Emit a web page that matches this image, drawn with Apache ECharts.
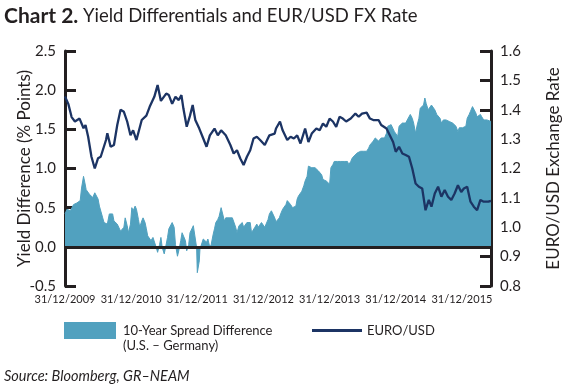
<!DOCTYPE html>
<html>
<head>
<meta charset="utf-8">
<script src="https://cdn.jsdelivr.net/npm/echarts@6/dist/echarts.min.js"></script>
<style>html,body{margin:0;padding:0;background:#fff}#c{width:570px;height:392px}</style>
</head>
<body>
<div id="c"></div>
<script>
// x values: years elapsed since 31/12/2009
const xTickLabels = ['31/12/2009','31/12/2010','31/12/2011','31/12/2012','31/12/2013','31/12/2014','31/12/2015'];
const leftTicks = [-0.5, 0.0, 0.5, 1.0, 1.5, 2.0, 2.5];
const rightTicks = [0.8, 0.9, 1.0, 1.1, 1.2, 1.3, 1.4, 1.5, 1.6];

// 10-Year Spread Difference (U.S. - Germany), % points
const spreadT = [0.00,0.03,0.08,0.13,0.18,0.23,0.25,0.28,0.30,0.32,0.35,0.37,0.42,0.45,0.47,0.50,0.52,0.54,0.57,0.59,0.62,0.64,0.67,0.69,0.72,0.74,0.79,0.84,0.86,0.89,0.91,0.94,0.96,0.99,1.01,1.03,1.06,1.08,1.11,1.13,1.16,1.18,1.21,1.23,1.25,1.28,1.30,1.33,1.35,1.38,1.40,1.43,1.45,1.47,1.50,1.52,1.55,1.57,1.62,1.65,1.67,1.70,1.72,1.75,1.77,1.79,1.82,1.84,1.87,1.89,1.92,1.94,1.97,1.99,2.00,2.03,2.04,2.06,2.09,2.11,2.14,2.16,2.19,2.21,2.24,2.26,2.28,2.31,2.33,2.36,2.38,2.41,2.43,2.46,2.48,2.50,2.53,2.55,2.58,2.60,2.63,2.65,2.68,2.70,2.73,2.75,2.77,2.80,2.82,2.85,2.87,2.90,2.92,2.95,2.97,3.00,3.02,3.04,3.07,3.09,3.12,3.14,3.17,3.19,3.22,3.24,3.26,3.29,3.31,3.34,3.36,3.39,3.41,3.44,3.46,3.49,3.51,3.53,3.56,3.58,3.61,3.63,3.66,3.68,3.71,3.73,3.75,3.78,3.80,3.83,3.85,3.88,3.90,3.93,3.95,3.98,4.00,4.02,4.05,4.07,4.10,4.12,4.15,4.17,4.20,4.22,4.25,4.27,4.29,4.32,4.34,4.37,4.39,4.42,4.44,4.47,4.49,4.51,4.54,4.56,4.59,4.61,4.64,4.66,4.69,4.71,4.74,4.76,4.78,4.81,4.83,4.86,4.88,4.91,4.93,4.96,4.98,5.00,5.03,5.05,5.08,5.10,5.13,5.15,5.18,5.20,5.22,5.25,5.27,5.30,5.32,5.35,5.37,5.40,5.42,5.44,5.46,5.49,5.51,5.54,5.57,5.59,5.62,5.64,5.67,5.69,5.72,5.74,5.76,5.79,5.81,5.84,5.86,5.89,5.91,5.94,5.96,5.99,6.01,6.03,6.06,6.08,6.11,6.13,6.16,6.18,6.21,6.23,6.25,6.28,6.30,6.33,6.35,6.38,6.40,6.44];
const spreadV = [0.42,0.48,0.46,0.54,0.56,0.59,0.75,0.90,0.82,0.73,0.75,0.67,0.63,0.69,0.71,0.61,0.52,0.50,0.37,0.31,0.33,0.29,0.42,0.44,0.42,0.33,0.29,0.20,0.18,0.25,0.37,0.27,0.18,0.29,0.50,0.46,0.52,0.48,0.35,0.25,0.33,0.37,0.31,0.23,0.14,0.12,0.08,0.12,0.10,-0.01,-0.07,0.03,0.12,-0.01,-0.09,-0.01,0.12,0.23,0.31,0.25,0.03,-0.12,-0.05,0.08,0.18,0.20,0.08,-0.05,0.03,0.18,0.20,0.27,0.29,-0.01,-0.33,-0.18,-0.03,-0.01,0.10,0.12,0.06,0.10,-0.01,0.03,0.16,0.23,0.31,0.35,0.39,0.50,0.48,0.33,0.37,0.35,0.37,0.39,0.37,0.35,0.25,0.18,0.27,0.29,0.31,0.25,0.27,0.31,0.29,0.31,0.18,0.20,0.25,0.29,0.25,0.27,0.31,0.29,0.25,0.27,0.35,0.42,0.46,0.44,0.37,0.32,0.33,0.37,0.42,0.48,0.50,0.54,0.59,0.59,0.54,0.50,0.48,0.52,0.61,0.65,0.67,0.71,0.78,0.84,0.90,1.03,1.03,1.01,1.03,1.01,1.03,0.97,0.97,0.92,0.86,0.86,0.84,0.82,0.80,1.01,1.05,1.09,1.07,1.09,1.11,1.09,1.11,1.09,1.11,1.09,1.05,1.09,1.13,1.16,1.18,1.20,1.20,1.22,1.20,1.22,1.24,1.22,1.26,1.30,1.28,1.35,1.39,1.37,1.35,1.37,1.39,1.41,1.39,1.45,1.54,1.52,1.56,1.54,1.47,1.45,1.41,1.54,1.56,1.58,1.56,1.58,1.56,1.66,1.69,1.64,1.58,1.45,1.54,1.64,1.77,1.79,1.81,1.90,1.83,1.75,1.77,1.81,1.83,1.75,1.69,1.71,1.64,1.58,1.62,1.60,1.62,1.62,1.60,1.60,1.58,1.58,1.54,1.47,1.52,1.54,1.52,1.54,1.54,1.64,1.69,1.73,1.79,1.77,1.71,1.66,1.64,1.69,1.66,1.62,1.60,1.62,1.60,1.60];

// EURO/USD exchange rate
const fxT = [0.00,0.02,0.05,0.10,0.15,0.22,0.28,0.31,0.35,0.40,0.45,0.50,0.54,0.62,0.64,0.69,0.74,0.79,0.84,0.89,0.94,0.99,1.03,1.08,1.16,1.23,1.28,1.35,1.40,1.45,1.53,1.57,1.62,1.67,1.72,1.76,1.79,1.84,1.89,1.93,1.97,2.03,2.09,2.14,2.19,2.26,2.31,2.36,2.43,2.50,2.55,2.60,2.65,2.70,2.75,2.80,2.85,2.90,2.95,3.02,3.09,3.17,3.19,3.25,3.29,3.36,3.41,3.46,3.51,3.56,3.63,3.68,3.73,3.80,3.85,3.90,3.95,4.00,4.05,4.10,4.15,4.20,4.25,4.32,4.39,4.44,4.49,4.56,4.61,4.66,4.74,4.78,4.81,4.86,4.91,4.96,5.00,5.05,5.10,5.15,5.20,5.25,5.30,5.35,5.40,5.45,5.50,5.54,5.59,5.64,5.69,5.74,5.79,5.84,5.89,5.94,5.99,6.03,6.08,6.13,6.18,6.23,6.28,6.33,6.40,6.44];
const fxV = [1.445,1.444,1.42,1.375,1.36,1.37,1.337,1.348,1.308,1.24,1.20,1.235,1.24,1.297,1.32,1.274,1.28,1.348,1.40,1.393,1.36,1.313,1.33,1.297,1.365,1.38,1.41,1.444,1.484,1.43,1.455,1.45,1.42,1.444,1.433,1.45,1.404,1.342,1.38,1.416,1.365,1.336,1.302,1.274,1.313,1.336,1.313,1.33,1.313,1.28,1.251,1.262,1.234,1.212,1.24,1.262,1.302,1.308,1.297,1.28,1.313,1.319,1.336,1.36,1.33,1.297,1.308,1.302,1.313,1.285,1.336,1.29,1.319,1.336,1.33,1.353,1.342,1.37,1.36,1.342,1.376,1.37,1.36,1.37,1.387,1.376,1.387,1.39,1.37,1.365,1.365,1.348,1.342,1.336,1.313,1.29,1.257,1.274,1.251,1.246,1.24,1.20,1.149,1.138,1.132,1.058,1.093,1.07,1.115,1.138,1.104,1.127,1.104,1.093,1.115,1.143,1.12,1.132,1.138,1.087,1.07,1.058,1.093,1.087,1.087,1.09];

const FONT = 'Lato';
const INK = '#231f20';
const AREA = '#51a1bf';
const LINE = '#1c3464';

const chart = echarts.init(document.getElementById('c'), null, {renderer: 'canvas'});
chart.setOption({
  animation: false,
  backgroundColor: '#fff',
  textStyle: {fontFamily: FONT, color: INK},
  title: {
    text: '{b|Chart 2.} {r|Yield Differentials and EUR/USD FX Rate}',
    left: 4, top: 6, padding: 0,
    textStyle: {fontWeight: 'normal', rich: {
      b: {fontFamily: FONT, fontWeight: 'bold', fontSize: 21, color: INK},
      r: {fontFamily: FONT, fontWeight: 'normal', fontSize: 18.5, color: INK}
    }}
  },
  grid: {left: 65, right: 67, top: 51, bottom: 106},
  xAxis: {
    type: 'value', min: 0, max: 6.44, interval: 1,
    axisLine: {show: false, onZero: false},
    axisTick: {show: false},
    splitLine: {show: false},
    axisLabel: {
      margin: 8, fontSize: 11, color: INK, fontFamily: FONT,
      showMaxLabel: false,
      formatter: v => (Math.abs(v - Math.round(v)) < 1e-6 && xTickLabels[Math.round(v)]) ? xTickLabels[Math.round(v)] : ''
    }
  },
  yAxis: [{
    type: 'value', min: leftTicks[0], max: leftTicks[leftTicks.length - 1], interval: 0.5,
    position: 'left',
    name: 'Yield Difference (% Points)', nameLocation: 'middle', nameGap: 32, nameMoveOverlap: false,
    nameTextStyle: {fontSize: 17, color: INK, fontFamily: FONT},
    axisLine: {show: true, onZero: false, lineStyle: {color: INK, width: 3}},
    axisTick: {show: true, inside: true, length: 11, lineStyle: {color: INK, width: 3}},
    splitLine: {show: false},
    axisLabel: {margin: 9, fontSize: 15, color: INK, fontFamily: FONT, formatter: v => v.toFixed(1)}
  }, {
    type: 'value', min: rightTicks[0], max: rightTicks[rightTicks.length - 1], interval: 0.1,
    position: 'right',
    name: 'EURO/USD Exchange Rate', nameLocation: 'middle', nameGap: 54, nameRotate: 90, nameMoveOverlap: false,
    nameTextStyle: {fontSize: 17, color: INK, fontFamily: FONT},
    axisLine: {show: true, onZero: false, lineStyle: {color: INK, width: 3}},
    axisTick: {show: true, inside: true, length: 11, lineStyle: {color: INK, width: 3}},
    splitLine: {show: false},
    axisLabel: {margin: 9, fontSize: 15, color: INK, fontFamily: FONT, formatter: v => v.toFixed(1)}
  }],
  legend: [{
    data: [{name: '10-Year Spread Difference', icon: 'rect'}],
    left: 64, top: 322, padding: 0, itemWidth: 52, itemHeight: 17,
    textStyle: {fontSize: 13, color: INK, fontFamily: FONT, padding: [0, 0, 0, 2]},
    selectedMode: false
  }, {
    data: [{name: 'EURO/USD', icon: 'rect'}],
    left: 312, top: 324, padding: 0, itemWidth: 50, itemHeight: 3,
    textStyle: {fontSize: 13, color: INK, fontFamily: FONT},
    selectedMode: false
  }],
  graphic: [{
    type: 'text', left: 123, top: 339,
    style: {text: '(U.S. – Germany)', font: '13px ' + FONT, fill: INK}
  }, {
    type: 'text', left: 4, top: 369,
    style: {text: 'Source: Bloomberg, GR–NEAM', font: 'italic 14.5px ' + FONT, fill: INK}
  }],
  series: [{
    name: '10-Year Spread Difference',
    type: 'line', yAxisIndex: 0,
    data: spreadT.map((t, i) => [t, spreadV[i]]),
    showSymbol: false, symbol: 'none',
    itemStyle: {color: AREA},
    lineStyle: {color: AREA, width: 1},
    areaStyle: {color: AREA, opacity: 1},
    z: 1,
    markLine: {
      silent: true, symbol: 'none', animation: false,
      label: {show: false},
      lineStyle: {color: INK, width: 3, type: 'solid'},
      data: [{yAxis: 0}]
    }
  }, {
    name: 'EURO/USD',
    type: 'line', yAxisIndex: 1,
    data: fxT.map((t, i) => [t, fxV[i]]),
    showSymbol: false, symbol: 'none',
    itemStyle: {color: LINE},
    lineStyle: {color: LINE, width: 2.3},
    z: 3
  }]
});
</script>
</body>
</html>
